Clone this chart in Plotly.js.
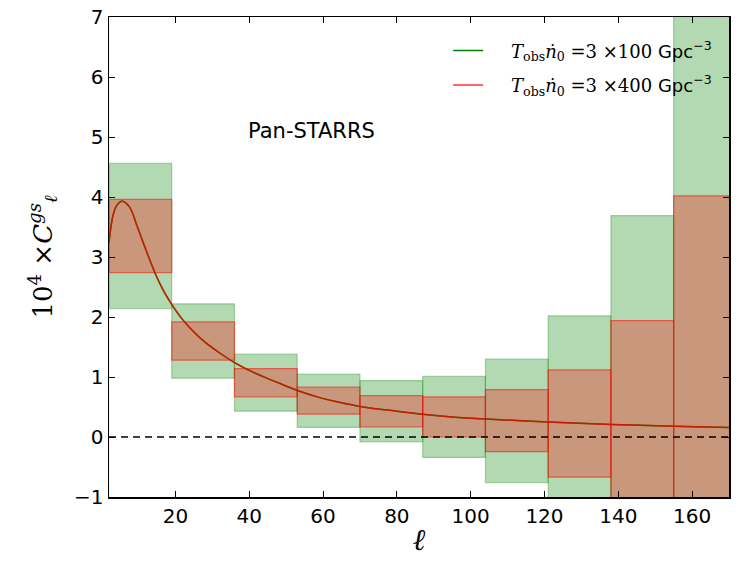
<!DOCTYPE html>
<html>
<head>
<meta charset="utf-8">
<script src="https://cdn.plot.ly/plotly-3.0.1.min.js"></script>
<style>
  html, body { margin: 0; padding: 0; background: #fff; }
  #chart { width: 740px; height: 568px; }
</style>
</head>
<body>
<div id="chart"></div>
<script>
// bin edges in ell (last bin runs past the axis and gets clipped)
binEdges = [2, 19, 36, 53, 70, 87, 104, 121, 138, 155, 172]

// error boxes, T_obs n0 = 3 x 100 Gpc^-3 (green)
lo100 = [2.14, 0.98, 0.43, 0.16, -0.08, -0.34, -0.76, -1.57, -3.29, -7.53]
hi100 = [4.56, 2.22, 1.38, 1.05, 0.94, 1.01, 1.30, 2.02, 3.69, 7.87]

// error boxes, T_obs n0 = 3 x 400 Gpc^-3 (red)
lo400 = [2.74, 1.28, 0.67, 0.38, 0.17, 0.00, -0.245, -0.67, -1.54, -3.68]
hi400 = [3.96, 1.92, 1.14, 0.83, 0.69, 0.67, 0.79, 1.12, 1.94, 4.02]

// theory curve 10^4 C_ell^gs
ell = [2, 3, 4, 5.5, 7.5, 9.7, 12, 14.5, 16.5, 18.9, 21.9, 25, 28, 32, 36, 40, 44.4, 48, 52.9, 58.9, 65, 70, 80, 87, 95, 104, 121, 138, 155, 170]
cl = [3.24, 3.67, 3.85, 3.93, 3.84, 3.50, 3.12, 2.73, 2.47, 2.22, 1.96, 1.75, 1.58, 1.40, 1.24, 1.11, 0.99, 0.90, 0.78, 0.66, 0.57, 0.51, 0.43, 0.38, 0.335, 0.30, 0.25, 0.21, 0.18, 0.16]

xTicks = [20, 40, 60, 80, 100, 120, 140, 160]
yTicks = [-1, 0, 1, 2, 3, 4, 5, 6, 7]

let mids = [], widths = []
for (let i = 0; i < binEdges.length - 1; i++) {
  mids.push((binEdges[i] + binEdges[i + 1]) / 2)
  widths.push(binEdges[i + 1] - binEdges[i])
}

boxTrace = (lo, hi, fill, edge) => ({
  type: 'bar',
  x: mids,
  width: widths,
  base: lo,
  y: hi.map((h, i) => h - lo[i]),
  marker: { color: fill, line: { color: edge, width: 1.2 } },
  showlegend: false,
  hoverinfo: 'skip'
})

// leading spaces push the text away from the legend line, as in the original
let serif = "font-family:'DejaVu Serif'"
legText = (n) =>
  `&nbsp;&nbsp;&nbsp;&nbsp;<span style="${serif}"><i>T</i><sub>obs</sub><i>ṅ</i><sub>0</sub> =3 ×${n}</span> Gpc<sup>−3</sup>`

let data = [
  boxTrace(lo100, hi100, 'rgba(0,128,0,0.3)', 'rgba(0,128,0,0.3)'),
  boxTrace(lo400, hi400, 'rgba(255,0,0,0.3)', 'rgba(255,0,0,0.5)'),
  {
    type: 'scatter', mode: 'lines', x: ell, y: cl,
    line: { color: 'rgb(0,128,0)', width: 1.5, shape: 'spline', smoothing: 1 },
    name: legText(100), legendgroup: 'a'
  },
  {
    type: 'scatter', mode: 'lines', x: ell, y: cl,
    line: { color: 'rgba(255,0,0,0.8)', width: 1.5, shape: 'spline', smoothing: 1 },
    name: legText(400), legendgroup: 'b'
  }
]

let axisCommon = {
  showgrid: false,
  zeroline: false,
  showline: true,
  linecolor: 'black',
  linewidth: 1.5,
  mirror: 'ticks',
  ticks: 'inside',
  ticklen: 6,
  tickcolor: 'black',
  tickfont: { family: 'DejaVu Sans', size: 20, color: 'black' }
}

let layout = {
  width: 740,
  height: 568,
  margin: { l: 109, r: 11, t: 17, b: 71 },
  paper_bgcolor: 'white',
  plot_bgcolor: 'white',
  barmode: 'overlay',
  bargap: 0,
  xaxis: Object.assign({}, axisCommon, {
    range: [2, 170],
    tickvals: xTicks,
    title: { text: '<i>ℓ</i>', font: { family: 'DejaVu Serif', size: 30, color: 'black' }, standoff: 2 }
  }),
  yaxis: Object.assign({}, axisCommon, {
    range: [-1, 7],
    tickvals: yTicks,
    ticktext: yTicks.map(v => v < 0 ? '−' + Math.abs(v) : String(v)),
    title: {
      text: '10<sup>4</sup> ×<i>C</i><sup><i>gs</i></sup><sub><i>ℓ</i></sub>',
      font: { family: 'DejaVu Serif', size: 26, color: 'black' },
      standoff: 14
    }
  }),
  legend: {
    x: 0.547, y: 0.968, xanchor: 'left', yanchor: 'top',
    bgcolor: 'rgba(0,0,0,0)',
    borderwidth: 0,
    traceorder: 'grouped',
    tracegroupgap: 8,
    font: { family: 'DejaVu Sans', size: 18, color: 'black' }
  },
  shapes: [{
    type: 'line', xref: 'paper', x0: 0, x1: 1, yref: 'y', y0: 0, y1: 0,
    line: { color: 'black', width: 1.3, dash: '7px,5px' }
  }],
  annotations: [{
    xref: 'x', yref: 'y', x: 57, y: 5.1,
    text: 'Pan-STARRS', showarrow: false,
    font: { family: 'DejaVu Sans', size: 21, color: 'black' }
  }]
}

Plotly.newPlot('chart', data, layout, { staticPlot: true })
</script>
</body>
</html>
